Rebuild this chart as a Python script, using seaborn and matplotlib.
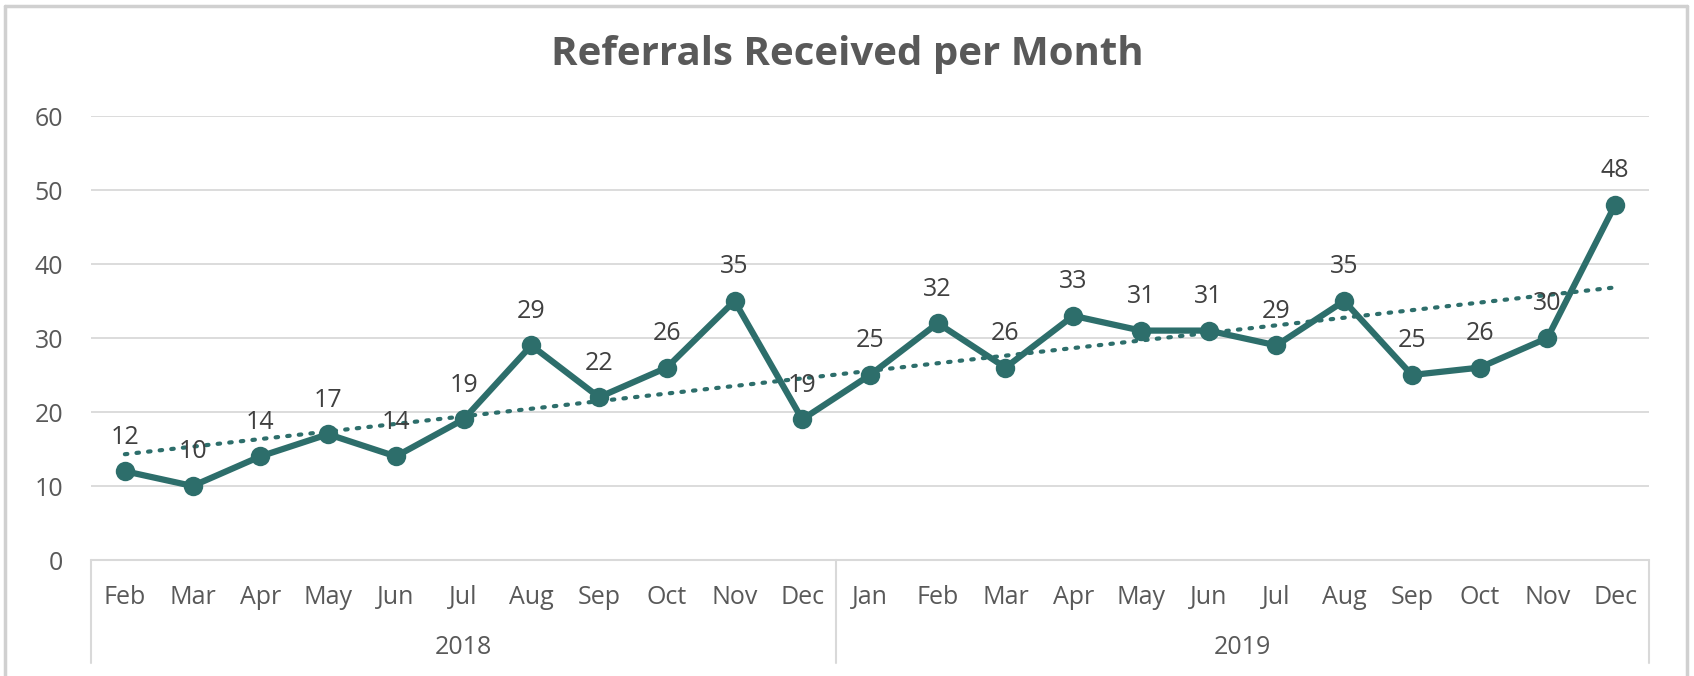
import matplotlib
matplotlib.use("Agg")
import matplotlib.pyplot as plt
import matplotlib.transforms as mtransforms
import numpy as np
import pandas as pd
import seaborn as sns

sns.set_theme(style="white")
plt.rcParams['font.family'] = ['Open Sans', 'DejaVu Sans']

# data
months = ['Feb', 'Mar', 'Apr', 'May', 'Jun', 'Jul', 'Aug', 'Sep', 'Oct', 'Nov', 'Dec',
          'Jan', 'Feb', 'Mar', 'Apr', 'May', 'Jun', 'Jul', 'Aug', 'Sep', 'Oct', 'Nov', 'Dec']
years = ['2018'] * 11 + ['2019'] * 12
referrals = [12, 10, 14, 17, 14, 19, 29, 22, 26, 35, 19,
             25, 32, 26, 33, 31, 31, 29, 35, 25, 26, 30, 48]

df = pd.DataFrame({'idx': np.arange(len(referrals)), 'month': months,
                   'year': years, 'referrals': referrals})

teal = '#2D6E6B'
grid_c = '#D9D9D9'
txt_c = '#595959'

fig = plt.figure(figsize=(16.94, 6.76), dpi=100)
ax = fig.add_axes([91 / 1694, 1 - 560 / 676, (1649 - 91) / 1694, 444 / 676])

# trend line
sns.regplot(data=df, x='idx', y='referrals', ax=ax, scatter=False, ci=None,
            line_kws=dict(color=teal, lw=3, linestyle=(0, (0.6, 2.2)),
                          dash_capstyle='round', zorder=2))
# main series
sns.lineplot(data=df, x='idx', y='referrals', ax=ax, color=teal, lw=4.5,
             marker='o', markersize=14, markeredgewidth=0, zorder=3)

for i, v in zip(df['idx'], df['referrals']):
    ax.annotate(str(v), (i, v), xytext=(0, 24.5), textcoords='offset points',
                ha='center', va='center', fontsize=18, color='#404040', zorder=4)

ax.set_xlim(-0.5, len(referrals) - 0.5)
ax.set_ylim(0, 60)
ax.set_yticks(range(0, 61, 10))
ax.set_xticks(df['idx'], months)
ax.set_xlabel('')
ax.set_ylabel('')
for y in range(10, 61, 10):
    ax.axhline(y, color=grid_c, lw=1.3, zorder=0)
ax.axhline(0, color=grid_c, lw=1.5, zorder=0, clip_on=False)
for s in ax.spines.values():
    s.set_visible(False)
ax.tick_params(axis='y', length=0, pad=20, labelsize=18, labelcolor=txt_c)
ax.tick_params(axis='x', length=0, pad=18, labelsize=18, labelcolor=txt_c)

# category box: year separators and year labels
trans = mtransforms.blended_transform_factory(ax.transData, fig.transFigure)
y_bot = 1 - 663 / 676
y_top = 1 - 560 / 676
for xb in [-0.5, 10.5, len(referrals) - 0.5]:
    ax.plot([xb, xb], [y_bot, y_top], transform=trans, color=grid_c, lw=1.5,
            clip_on=False)
for yr in ['2018', '2019']:
    sel = df.loc[df['year'] == yr, 'idx']
    ax.text((sel.min() + sel.max()) / 2, 1 - 647 / 676, yr, transform=trans,
            ha='center', va='center', fontsize=18, color=txt_c)

fig.text(0.5, 1 - 54 / 676, 'Referrals Received per Month', ha='center',
         va='center', fontsize=29, fontweight='bold', color=txt_c)

# outer chart frame
for xs, ys in [([5 / 1694, 5 / 1694], [0, 1 - 6 / 676]),
               ([5 / 1694, 1687 / 1694], [1 - 6 / 676, 1 - 6 / 676]),
               ([1687 / 1694, 1687 / 1694], [1 - 6 / 676, 0])]:
    fig.add_artist(plt.Line2D(xs, ys, color='#D0D0D0', lw=2.5))

fig.savefig('out.png', dpi=100, facecolor='white')
